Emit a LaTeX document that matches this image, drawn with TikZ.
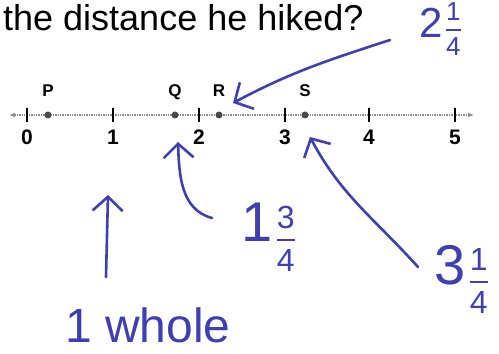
\documentclass[tikz,border=0pt]{standalone}
\usepackage{fontspec}
\setmainfont{Liberation Sans}
\usetikzlibrary{arrows.meta, positioning}
\definecolor{penblue}{HTML}{3F3FB4}
\definecolor{linegray}{HTML}{8C8C8C}
\definecolor{dotgray}{HTML}{4A4A4A}
\setlength{\arrayrulewidth}{2pt}
% whole part, numerator, denominator, size of the fraction digits, drop of the fraction
\newcommand{\mixnum}[5]{#1\hspace{0.08em}{\fontsize{#4}{#4}\selectfont\raisebox{-#5}{\begin{tabular}[c]{@{}c@{}}#2\\[1pt]\hline\rule{0pt}{0.95em}#3\end{tabular}}}}

\begin{document}
\begin{tikzpicture}[
    x=1pt, y=1pt,
    question/.style={font=\fontsize{36}{36}\selectfont, inner sep=0pt},
    numline/.style={linegray, line width=1.4pt, densely dotted, {Latex[length=6pt,width=5pt]}-{Latex[length=6pt,width=5pt]}},
    tick/.style={draw=black, line width=1.2pt, minimum height=14pt, minimum width=0pt, inner sep=0pt},
    numlbl/.style={font=\fontsize{21}{21}\selectfont\bfseries, inner sep=1pt},
    dot/.style={circle, fill=dotgray, inner sep=0pt, minimum size=7pt},
    ptlbl/.style={font=\fontsize{17}{17}\selectfont\bfseries, inner sep=1pt, text depth=0pt},
    penlbl/.style={penblue, inner sep=0pt},
    pen/.style={penblue, line width=2.6pt, line cap=round, line join=round},
    penarrow/.style={pen, -{Straight Barb[length=14pt, width=30pt]}}
]
\useasboundingbox (0,0) rectangle (499,354);

\node[question, anchor=base west] (ask) at (3,323) {the distance he hiked?};

% number line
\coordinate (lend) at (9,239);
\coordinate (rend) at (474,239);
\draw[numline] (lend) -- (rend);

\node[tick] (t0) at (27,239) {};
\node[tick] (t1) at (113,239) {};
\node[tick] (t2) at (199,239) {};
\node[tick] (t3) at (285,239) {};
\node[tick] (t4) at (369,239) {};
\node[tick] (t5) at (455,239) {};

\node[numlbl, below=6pt of t0] (n0) {0};
\node[numlbl, below=6pt of t1] (n1) {1};
\node[numlbl, below=6pt of t2] (n2) {2};
\node[numlbl, below=6pt of t3] (n3) {3};
\node[numlbl, below=6pt of t4] (n4) {4};
\node[numlbl, below=6pt of t5] (n5) {5};

\node[dot] (P) at (48,239) {};
\node[dot] (Q) at (175,239) {};
\node[dot] (R) at (219,239) {};
\node[dot] (S) at (305,239) {};

\node[ptlbl, above=14pt of P] (Pname) {P};
\node[ptlbl, above=14pt of Q] (Qname) {Q};
\node[ptlbl, above=14pt of R] (Rname) {R};
\node[ptlbl, above=14pt of S] (Sname) {S};

% handwritten answers
\node[penlbl, font=\fontsize{42}{42}\selectfont] (ansR) at (440,321) {\mixnum{2}{1}{4}{26}{2pt}};
\node[penlbl, font=\fontsize{56}{56}\selectfont] (ansQ) at (268,112) {\mixnum{1}{3}{4}{32}{8pt}};
\node[penlbl, font=\fontsize{56}{56}\selectfont] (ansS) at (461,70) {\mixnum{3}{1}{4}{32}{7pt}};
\node[penlbl, font=\fontsize{48}{48}\selectfont] (whole) at (148,29) {1 whole};

\coordinate (rFrom) at (390,314);
\coordinate (rTip) at (233,251);
\coordinate (qFrom) at (212,136);
\coordinate (qTip) at (178,212);
\coordinate (sFrom) at (418,87);
\coordinate (sTip) at (310,217);
\coordinate (wFrom) at (106,77);
\coordinate (wTip) at (108,159);

\draw[penarrow] (rFrom) to[out=198, in=28] (rTip);
\draw[penarrow] (qFrom) to[out=165, in=-88] (qTip);
\draw[penarrow] (sFrom) to[out=132, in=-62] (sTip);
\draw[penarrow] (wFrom) -- (wTip);

\end{tikzpicture}
\end{document}
